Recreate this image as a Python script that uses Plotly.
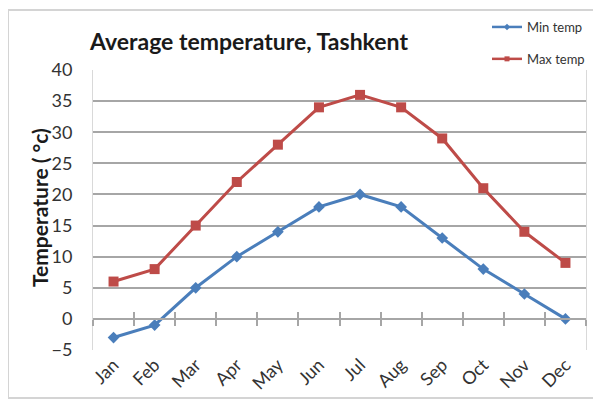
import plotly.graph_objects as go

months = ["Jan", "Feb", "Mar", "Apr", "May", "Jun", "Jul", "Aug", "Sep", "Oct", "Nov", "Dec"]
min_temp = [-3, -1, 5, 10, 14, 18, 20, 18, 13, 8, 4, 0]
max_temp = [6, 8, 15, 22, 28, 34, 36, 34, 29, 21, 14, 9]
y_ticks = [-5, 0, 5, 10, 15, 20, 25, 30, 35, 40]

BLUE = "#4a7ebb"
RED = "#be4b48"
GRID = "#a6a6a6"
FONT = "Lato"

# page body has an 8px default margin; figure sized so it fits the 601x405 window
OFF = 8
W, H = 601 - OFF, 405 - OFF
# plot area in page pixels
PL, PR, PT, PB = 93, 586, 70, 350
L, R, T, B = PL - OFF, W - (PR - OFF), PT - OFF, H - (PB - OFF)
pw, ph = W - L - R, H - T - B

def px_x(v):  # page x -> paper fraction
    return (v - OFF - L) / pw

def px_y(v):  # page y -> paper fraction
    return (H - B - (v - OFF)) / ph

fig = go.Figure()
fig.add_trace(go.Scatter(
    x=months, y=min_temp, name="Min temp", mode="lines+markers",
    line=dict(color=BLUE, width=3),
    marker=dict(symbol="diamond", size=9, color=BLUE),
    showlegend=False,
))
fig.add_trace(go.Scatter(
    x=months, y=max_temp, name="Max temp", mode="lines+markers",
    line=dict(color=RED, width=3),
    marker=dict(symbol="square", size=10, color=RED),
    showlegend=False,
))
# legend entries with small markers like the original
fig.add_trace(go.Scatter(
    x=[None], y=[None], name="Min temp", mode="lines+markers",
    line=dict(color=BLUE, width=2.5),
    marker=dict(symbol="diamond", size=5, color=BLUE),
    legendgroup="a",
))
fig.add_trace(go.Scatter(
    x=[None], y=[None], name="Max temp", mode="lines+markers",
    line=dict(color=RED, width=2.5),
    marker=dict(symbol="square", size=5, color=RED),
    legendgroup="b",
))

n = len(months)
bounds = [i - 0.5 for i in range(n + 1)]
zero_pos = (0 - y_ticks[0]) / (y_ticks[-1] - y_ticks[0])

fig.update_layout(
    width=W, height=H,
    margin=dict(l=L, r=R, t=T, b=B, autoexpand=False),
    paper_bgcolor="white", plot_bgcolor="white",
    font=dict(family=FONT, color="#222222"),
    title=dict(text="Average temperature, Tashkent", x=(249 - OFF) / W, xanchor="center",
               y=1 - (42 - OFF) / H, yanchor="middle", yref="container",
               font=dict(size=23, family=FONT, color="#1a1a1a", weight="bold")),
    showlegend=True,
    legend=dict(x=px_x(487), xanchor="left", y=px_y(12), yanchor="top",
                font=dict(size=13, family=FONT, color="#333333"),
                tracegroupgap=12, bgcolor="rgba(0,0,0,0)"),
    xaxis=dict(type="category", range=[-0.5, n - 0.5], showgrid=False,
               showline=False, ticks="", tickangle=-45, automargin=False,
               tickfont=dict(size=18, family=FONT, color="#333333")),
    xaxis2=dict(overlaying="x", anchor="free", position=zero_pos, range=[-0.5, n - 0.5],
                tickvals=bounds, ticks="inside", ticklen=6, tickwidth=1.5, tickcolor=GRID,
                showticklabels=False, showgrid=False, showline=True, linecolor=GRID,
                linewidth=1.5, zeroline=False, automargin=False),
    xaxis3=dict(overlaying="x", anchor="free", position=zero_pos, range=[-0.5, n - 0.5],
                tickvals=bounds, ticks="outside", ticklen=6, tickwidth=1.5, tickcolor=GRID,
                showticklabels=False, showgrid=False, showline=False, zeroline=False,
                automargin=False),
    yaxis=dict(range=[y_ticks[0], y_ticks[-1]], tickvals=y_ticks, showgrid=True,
               gridcolor=GRID, gridwidth=1.5, zeroline=False, ticks="",
               ticklabelstandoff=16, automargin=False,
               showline=True, linecolor="#d9d9d9", linewidth=1, mirror=True,
               tickfont=dict(size=18, family=FONT, color="#333333")),
    annotations=[dict(text="Temperature ( °c)", textangle=-90, showarrow=False,
                      xref="paper", yref="paper", x=px_x(39), y=px_y(208),
                      xanchor="center", yanchor="middle",
                      font=dict(size=21, family=FONT, color="#1a1a1a", weight="bold"))],
    shapes=[dict(type="rect", xref="paper", yref="paper",
                 x0=px_x(8), x1=px_x(597), y0=px_y(398), y1=px_y(10),
                 line=dict(color="#d4d4d4", width=2), fillcolor="rgba(0,0,0,0)", layer="below")],
)

# invisible helpers so the zero-line axes render
fig.add_trace(go.Scatter(x=[0], y=[0], xaxis="x2", mode="markers",
                         marker=dict(opacity=0), showlegend=False, hoverinfo="skip"))
fig.add_trace(go.Scatter(x=[0], y=[0], xaxis="x3", mode="markers",
                         marker=dict(opacity=0), showlegend=False, hoverinfo="skip"))

fig.write_html("out.html")
